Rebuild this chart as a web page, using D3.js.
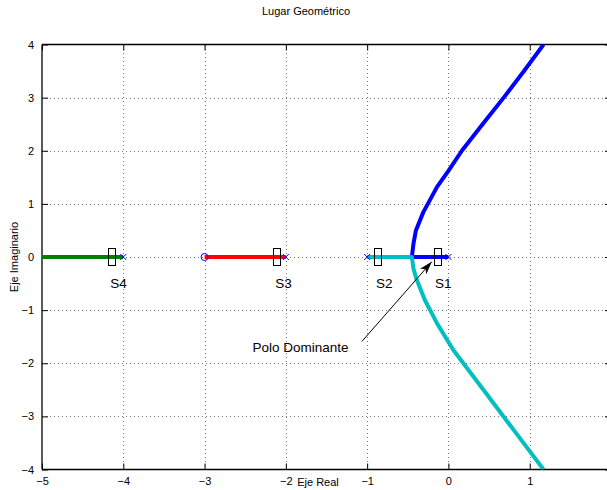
<!DOCTYPE html>
<html>
<head>
<meta charset="utf-8">
<script src="https://cdn.jsdelivr.net/npm/d3@7"></script>
<style>
  html, body { margin: 0; padding: 0; background: #fff; }
  svg { display: block; font-family: "Liberation Sans", Arial, Helvetica, sans-serif; }
</style>
</head>
<body>
<svg id="chart" width="607" height="490"></svg>
<script>
// ---------- data ----------
const title = "Lugar Geométrico";
const xLabel = "Eje Real";
const yLabel = "Eje Imaginario";
const xTicks = [-5, -4, -3, -2, -1, 0, 1];
const yTicks = [-4, -3, -2, -1, 0, 1, 2, 3, 4];
const xDomain = [-5, 2];
const yDomain = [-4, 4];

// root locus branches [real, imag]
const branchBlue = [[0, 0], [-0.45, 0], [-0.43, 0.25], [-0.40, 0.5], [-0.31, 0.84], [-0.14, 1.32], [0.0, 1.62], [0.165, 2.0], [0.42, 2.5], [0.68, 3.0], [0.93, 3.5], [1.17, 4.0]];
const branchCyan = [[-1, 0], [-0.45, 0], [-0.43, -0.22], [-0.39, -0.43], [-0.29, -0.81], [-0.14, -1.25], [0.06, -1.75], [0.43, -2.5], [0.8, -3.25], [1.17, -4.0]];
const branchRed = [[-2, 0], [-3, 0]];
const branchGreen = [[-4, 0], [-5, 0]];

const poles = [0, -1, -2, -4];
const zeros = [-3];

// marked closed-loop poles
const markNames = ["S1", "S2", "S3", "S4"];
const markReal = [-0.14, -0.877, -2.115, -4.15];
const labelReal = [-0.065, -0.79, -2.03, -4.06];
const labelImag = [-0.5, -0.5, -0.5, -0.5];

// annotation
const annText = "Polo Dominante";
const annTextPos = [-2.41, -1.78];
const annTail = [-1.065, -1.59];
const annHead = [-0.205, -0.09];

// ---------- layout ----------
const svg = d3.select("#chart");
const L = 42, R = 611, T = 44.5, B = 469.5;
const x = d3.scaleLinear().domain(xDomain).range([L, R]);
const y = d3.scaleLinear().domain(yDomain).range([B, T]);

const defs = svg.append("defs");
defs.append("clipPath").attr("id", "clip")
  .append("rect").attr("x", L).attr("y", T).attr("width", R - L).attr("height", B - T);

// grid
const grid = svg.append("g").attr("stroke", "#777").attr("stroke-width", 1)
  .attr("stroke-dasharray", "1,3").attr("shape-rendering", "crispEdges");
xTicks.filter(v => v > xDomain[0] && v < xDomain[1]).forEach(v => {
  grid.append("line").attr("x1", Math.round(x(v)) + 0.5).attr("x2", Math.round(x(v)) + 0.5)
    .attr("y1", T).attr("y2", B);
});
yTicks.filter(v => v > yDomain[0] && v < yDomain[1]).forEach(v => {
  grid.append("line").attr("y1", Math.round(y(v)) + 0.5).attr("y2", Math.round(y(v)) + 0.5)
    .attr("x1", L).attr("x2", R);
});

// axes (MATLAB-like box with inward ticks)
const tickLen = 6;
const xAxisB = d3.axisBottom(x).tickValues(xTicks).tickSize(-tickLen).tickPadding(8)
  .tickFormat(d => d < 0 ? "\u2212" + Math.abs(d) : String(d));
const xAxisT = d3.axisTop(x).tickValues(xTicks.concat([2])).tickSize(-tickLen).tickFormat("");
const yAxisL = d3.axisLeft(y).tickValues(yTicks).tickSize(-tickLen).tickPadding(8)
  .tickFormat(d => d < 0 ? "\u2212" + Math.abs(d) : String(d));
const yAxisR = d3.axisRight(y).tickValues(yTicks).tickSize(-tickLen).tickFormat("");

function styleAxis(g) {
  g.selectAll(".domain").attr("stroke", "#000").attr("stroke-width", 1.3);
  g.selectAll(".tick line").attr("stroke", "#000").attr("stroke-width", 1);
  g.selectAll(".tick text").attr("fill", "#000").attr("font-size", 11)
    .attr("font-family", "'Liberation Sans', Arial, sans-serif");
}
svg.append("g").attr("transform", `translate(0,${B})`).call(xAxisB).call(styleAxis)
  .call(g => g.selectAll(".domain").attr("d", `M${L},0H${R}`));
svg.append("g").attr("transform", `translate(0,${T})`).call(xAxisT).call(styleAxis)
  .call(g => g.selectAll(".domain").attr("d", `M${L},0H${R}`));
svg.append("g").attr("transform", `translate(${L},0)`).call(yAxisL).call(styleAxis)
  .call(g => g.selectAll(".domain").attr("d", `M0,${T}V${B}`));
svg.append("g").attr("transform", `translate(${R},0)`).call(yAxisR).call(styleAxis)
  .call(g => g.selectAll(".domain").attr("d", `M0,${T}V${B}`));

// locus lines
const plot = svg.append("g").attr("clip-path", "url(#clip)");
const line = d3.line().x(d => x(d[0])).y(d => y(d[1]));
const branches = [
  { data: branchGreen, color: "#008000" },
  { data: branchRed, color: "#ff0000" },
  { data: branchBlue, color: "#0000ff" },
  { data: branchCyan, color: "#00bfbf" }
];
branches.forEach(b => {
  plot.append("path").attr("d", line(b.data)).attr("fill", "none")
    .attr("stroke", b.color).attr("stroke-width", 4)
    .attr("stroke-linejoin", "round").attr("stroke-linecap", "butt");
});

// poles (x) and zeros (o)
poles.forEach(p => {
  const cx = x(p), cy = y(0), s = 3;
  plot.append("path").attr("d", `M${cx - s},${cy - s}L${cx + s},${cy + s}M${cx - s},${cy + s}L${cx + s},${cy - s}`)
    .attr("stroke", "#0000ff").attr("stroke-width", 1).attr("fill", "none");
});
zeros.forEach(z => {
  plot.append("circle").attr("cx", x(z)).attr("cy", y(0)).attr("r", 3.5)
    .attr("fill", "none").attr("stroke", "#0000ff").attr("stroke-width", 1);
});

// marker rectangles and labels
markReal.forEach((m, i) => {
  plot.append("rect").attr("x", Math.round(x(m) - 3.5) + 0.5).attr("y", Math.round(y(0) - 9) + 0.5)
    .attr("width", 7).attr("height", 17).attr("fill", "none").attr("stroke", "#000").attr("stroke-width", 1);
  svg.append("text").attr("x", x(labelReal[i])).attr("y", y(labelImag[i]) + 4)
    .attr("text-anchor", "middle").attr("font-size", 13.5).attr("fill", "#000").text(markNames[i]);
});

// annotation arrow
const tx = x(annTail[0]), ty = y(annTail[1]), hx = x(annHead[0]), hy = y(annHead[1]);
svg.append("line").attr("x1", tx).attr("y1", ty).attr("x2", hx).attr("y2", hy)
  .attr("stroke", "#000").attr("stroke-width", 1);
{
  const ang = Math.atan2(hy - ty, hx - tx);
  const len = 13, half = 4.2, back = 9.5;
  const ux = Math.cos(ang), uy = Math.sin(ang);
  const px = -uy, py = ux;
  const p1 = [hx - ux * len + px * half, hy - uy * len + py * half];
  const p2 = [hx - ux * back, hy - uy * back];
  const p3 = [hx - ux * len - px * half, hy - uy * len - py * half];
  svg.append("path").attr("d", `M${hx},${hy}L${p1[0]},${p1[1]}L${p2[0]},${p2[1]}L${p3[0]},${p3[1]}Z`)
    .attr("fill", "#000");
}
svg.append("text").attr("x", x(annTextPos[0])).attr("y", y(annTextPos[1]))
  .attr("font-size", 13.5).attr("fill", "#000").text(annText);

// titles
svg.append("text").attr("x", 306).attr("y", 15).attr("text-anchor", "middle")
  .attr("font-size", 11).attr("fill", "#000").text(title);
svg.append("text").attr("x", 318).attr("y", 486).attr("text-anchor", "middle")
  .attr("font-size", 11).attr("fill", "#000").text(xLabel);
svg.append("text").attr("transform", `translate(18,${(T + B) / 2}) rotate(-90)`)
  .attr("text-anchor", "middle").attr("font-size", 11).attr("fill", "#000").text(yLabel);
</script>
</body>
</html>
